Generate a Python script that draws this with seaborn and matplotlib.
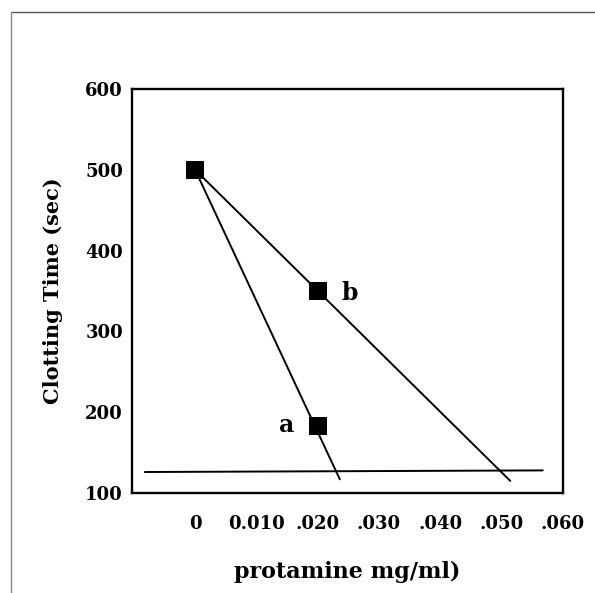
import seaborn as sns
import matplotlib.pyplot as plt
from matplotlib.lines import Line2D

# measured points
point_x = [0.0, 0.020, 0.020]
point_y = [500, 350, 183]

# fitted lines a and b, and the baseline
line_a_x = [0.0, 0.0236]
line_a_y = [500, 117]
line_b_x = [0.0, 0.0514]
line_b_y = [500, 115]
base_x = [-0.0082, 0.0567]
base_y = [126, 128]

x_ticks = [0.0, 0.010, 0.020, 0.030, 0.040, 0.050, 0.060]
x_tick_labels = ["0", "0.010", ".020", ".030", ".040", ".050", ".060"]
y_ticks = [100, 200, 300, 400, 500, 600]

sns.set_style("white")
plt.rcParams["font.family"] = ["DejaVu Serif"]
plt.rcParams["font.weight"] = "bold"
plt.rcParams["text.color"] = "black"
plt.rcParams["axes.labelcolor"] = "black"
plt.rcParams["xtick.color"] = "black"
plt.rcParams["ytick.color"] = "black"

fig = plt.figure(figsize=(5.95, 5.93), dpi=100)
ax = fig.add_axes([0.2218, 0.1686, 0.7244, 0.6813])

# lines
for lx, ly in [(line_a_x, line_a_y), (line_b_x, line_b_y), (base_x, base_y)]:
    sns.lineplot(x=lx, y=ly, ax=ax, color="black", linewidth=1.4, sort=False, zorder=2)

sns.scatterplot(x=point_x, y=point_y, ax=ax, marker="s", s=150, color="black",
                linewidth=0, zorder=3)

ax.text(0.0150, 184, "a", fontsize=17, fontweight="bold", ha="center", va="center")
ax.text(0.0253, 348, "b", fontsize=17, fontweight="bold", ha="center", va="center")

ax.set_xlim(-0.0103, 0.060)
ax.set_ylim(100, 600)
ax.set_xticks(x_ticks)
ax.set_xticklabels(x_tick_labels)
ax.set_yticks(y_ticks)
ax.tick_params(axis="x", direction="in", length=7, width=1.3, pad=16,
               labelsize=13, color="black", labelcolor="black")
ax.tick_params(axis="y", length=0, pad=6.5, labelsize=13, labelcolor="black")
for lab in ax.get_xticklabels() + ax.get_yticklabels():
    lab.set_fontweight("bold")

for sp in ax.spines.values():
    sp.set_visible(True)
    sp.set_color("black")
    sp.set_linewidth(1.7)

ax.set_xlabel("protamine mg/ml)", fontsize=16, fontweight="bold", labelpad=20,
              color="black")
ax.set_ylabel("Clotting Time (sec)", fontsize=15, fontweight="bold", labelpad=16,
              color="black")

# scanned page frame
fig.add_artist(Line2D([11 / 595, 1.0], [1 - 12 / 593, 1 - 12 / 593],
                      transform=fig.transFigure, color="#555555", linewidth=1))
fig.add_artist(Line2D([11 / 595, 11 / 595], [0.0, 1 - 12 / 593],
                      transform=fig.transFigure, color="#888888", linewidth=1))

fig.savefig("out.png", dpi=100)
